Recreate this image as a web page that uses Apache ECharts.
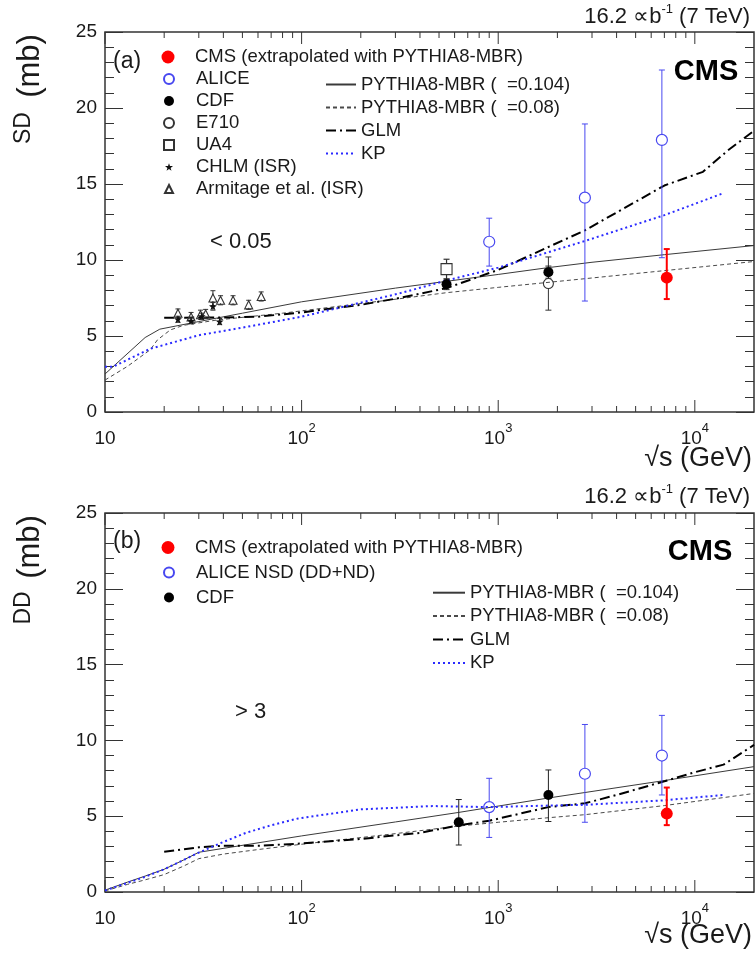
<!DOCTYPE html>
<html>
<head>
<meta charset="utf-8">
<script src="https://cdn.jsdelivr.net/npm/echarts@6/dist/echarts.min.js"></script>
<style>
  html, body { margin: 0; padding: 0; background: #fff; }
  #chart { width: 755px; height: 958px; }
</style>
</head>
<body>
<div id="chart"></div>
<script>
// ---------- Panel (a): single-diffractive cross section, xi < 0.05 ----------
// points: [sqrt(s) GeV, sigma mb, error low, error high]
const sdCMS      = [[7200, 8.84, 7.43, 10.72]];
const sdALICE    = [[900, 11.2, 9.6, 12.75], [2760, 14.1, 7.3, 18.95], [6800, 17.9, 10.15, 22.5]];
const sdCDF      = [[546, 8.4, 8.05, 8.75], [1800, 9.2, 8.8, 9.6]];
const sdE710     = [[1800, 8.45, 6.7, 10.2]];
const sdUA4      = [[546, 9.4, 8.75, 10.05]];
const sdCHLM     = [[23.5, 6.1, 5.9, 6.3], [27.4, 6.0, 5.8, 6.2], [31, 6.3, 6.1, 6.5], [35.4, 6.95, 6.7, 7.2], [38.3, 5.95, 5.75, 6.15]];
const sdArmitage = [[23.5, 6.5, 6.2, 6.78], [27.4, 6.25, 5.95, 6.55], [30.6, 6.4, 6.1, 6.7], [32.5, 6.45, 6.15, 6.75],
                    [35.4, 7.5, 7.0, 7.98], [38.7, 7.35, 7.05, 7.65], [44.8, 7.35, 7.05, 7.65], [53.8, 7.05, 6.75, 7.35], [62.3, 7.6, 7.3, 7.9]];
// model curves: [sqrt(s) GeV, sigma mb]
const sdPythia104 = [[10, 2.5], [16, 4.9], [19, 5.45], [30, 5.95], [50, 6.5], [100, 7.25], [300, 8.15], [1000, 9.05],
                     [1800, 9.5], [3000, 9.85], [7000, 10.35], [20000, 10.95]];
const sdPythia08  = [[10, 2.1], [13, 3.0], [17, 4.1], [18.5, 4.75], [21.5, 5.4], [25, 5.7], [37, 6.05], [80, 6.5],
                     [314, 7.45], [546, 7.85], [1000, 8.2], [2760, 8.77], [7000, 9.3], [20000, 9.9]];
const sdGLM       = [[20, 6.2], [40, 6.22], [60, 6.27], [100, 6.55], [200, 7.05], [314, 7.5], [546, 8.15], [1000, 9.35],
                     [2760, 11.95], [7000, 14.9], [11000, 15.8], [14700, 17.2], [20000, 18.5]];
const sdKP        = [[10, 2.97], [11, 2.98], [16.9, 4.15], [30, 5.05], [50, 5.55], [100, 6.27], [314, 7.8], [546, 8.65],
                     [1000, 9.5], [2760, 11.25], [7000, 12.95], [14000, 14.4]];

// ---------- Panel (b): double-diffractive cross section, delta eta > 3 ----------
const ddCMS   = [[7200, 5.17, 4.41, 6.89]];
const ddALICE = [[900, 5.6, 3.6, 7.5], [2760, 7.8, 4.6, 11.05], [6800, 9.0, 6.4, 11.65]];
const ddCDF   = [[630, 4.6, 3.1, 6.1], [1800, 6.4, 4.65, 8.05]];
const ddPythia104 = [[10, 0.12], [13, 0.65], [16, 1.05], [20, 1.5], [25, 2.1], [30, 2.62], [100, 3.7], [300, 4.62],
                     [630, 5.25], [1800, 6.2], [7000, 7.35], [20000, 8.27]];
const ddPythia08  = [[10, 0.07], [13, 0.5], [16, 0.8], [20, 1.15], [25, 1.7], [30, 2.2], [40, 2.5], [60, 2.8], [100, 3.15],
                     [300, 3.85], [630, 4.35], [1000, 4.6], [1800, 4.9], [2760, 5.1], [7000, 5.7], [20000, 6.5]];
const ddGLM       = [[20, 2.65], [30, 2.95], [40, 3.05], [60, 3.05], [100, 3.2], [200, 3.5], [400, 3.9], [630, 4.4],
                     [900, 4.7], [1800, 5.6], [2760, 5.85], [4000, 6.4], [7000, 7.3], [10000, 7.9], [14000, 8.4], [20000, 9.7]];
const ddKP        = [[10, 0.1], [13, 0.6], [16, 1.0], [20, 1.5], [25, 2.1], [30, 2.6], [40, 3.3], [52, 3.9], [70, 4.4],
                     [96, 4.85], [200, 5.45], [464, 5.67], [900, 5.6], [1800, 5.7], [2760, 5.75], [7000, 6.05], [14000, 6.4]];

// axis ranges and decade tick labels
const xRange = [10, 20000];
const yRange = [0, 25];
const decadeLabels = { 1: '10', 2: '10^2', 3: '10^3', 4: '10^4' };

// legend names
const N_CMS = 'CMS (extrapolated with PYTHIA8-MBR)';
const N_ALICE = 'ALICE';
const N_ALICE_NSD = 'ALICE NSD (DD+ND)';
const N_CDF = 'CDF';
const N_E710 = 'E710';
const N_UA4 = 'UA4';
const N_CHLM = 'CHLM (ISR)';
const N_ARM = 'Armitage et al. (ISR)';
const N_P104 = 'PYTHIA8-MBR (  =0.104)';
const N_P08 = 'PYTHIA8-MBR (  =0.08)';
const N_GLM = 'GLM';
const N_KP = 'KP';

const FONT = '"Liberation Sans", Arial, Helvetica, sans-serif';
const INK = '#1a1a1a';
const FRAME = '#333';
const BLUE = '#4848f0';
const KPBLUE = '#2a2aff';
const STAR = 'path://M0,-10L2.35,-3.24L9.51,-3.09L3.8,1.24L5.88,8.09L0,4L-5.88,8.09L-3.8,1.24L-9.51,-3.09L-2.35,-3.24Z';

// minor + major ticks along the log x axis (1..9 x each decade)
const xTickMarks = [];
for (let d = 10; d < xRange[1]; d *= 10) {
  for (let m = 1; m <= 9; m++) {
    const v = d * m;
    if (v < xRange[1]) xTickMarks.push([v, m === 1 ? 1 : 0]);
  }
}

function decadeFormatter(v) {
  const l = Math.log10(v);
  const e = Math.round(l);
  if (Math.abs(l - e) > 1e-6 || !decadeLabels[e]) return '';
  const parts = decadeLabels[e].split('^');
  return parts.length === 1 ? '{b|' + parts[0] + '}' : '{b|' + parts[0] + '}{s|' + parts[1] + '}';
}

function renderXTicks(params, api) {
  const cs = params.coordSys;
  const x = api.coord([api.value(0), 1])[0];
  const len = api.value(1) === 1 ? 12 : 6;
  const yb = cs.y + cs.height, yt = cs.y;
  const st = { stroke: FRAME, lineWidth: 1 };
  return {
    type: 'group',
    children: [
      { type: 'line', shape: { x1: x, y1: yb, x2: x, y2: yb - len }, style: st },
      { type: 'line', shape: { x1: x, y1: yt, x2: x, y2: yt + len }, style: st }
    ]
  };
}

// vertical error bar with end caps; leaves a gap of `gap` px around an open marker
function errorBarRenderer(color, width, gap, cap) {
  return function (params, api) {
    const s = api.value(0);
    const p = api.coord([s, api.value(1)]);
    const lo = api.coord([s, api.value(2)]);
    const hi = api.coord([s, api.value(3)]);
    const st = { stroke: color, lineWidth: width };
    const kids = [];
    if (hi[1] < p[1] - gap) kids.push({ type: 'line', shape: { x1: p[0], y1: hi[1], x2: p[0], y2: p[1] - gap }, style: st });
    if (lo[1] > p[1] + gap) kids.push({ type: 'line', shape: { x1: p[0], y1: p[1] + gap, x2: p[0], y2: lo[1] }, style: st });
    kids.push({ type: 'line', shape: { x1: p[0] - cap, y1: hi[1], x2: p[0] + cap, y2: hi[1] }, style: st });
    kids.push({ type: 'line', shape: { x1: p[0] - cap, y1: lo[1], x2: p[0] + cap, y2: lo[1] }, style: st });
    return { type: 'group', children: kids };
  };
}

function xAxisFor(gridIndex) {
  return {
    type: 'log', logBase: 10, gridIndex: gridIndex, min: xRange[0], max: xRange[1],
    axisLine: { show: false }, axisTick: { show: false }, minorTick: { show: false }, splitLine: { show: false },
    axisLabel: {
      margin: 10, showMaxLabel: false, formatter: decadeFormatter,
      rich: {
        b: { fontSize: 19, fontFamily: FONT, color: INK, lineHeight: 26, verticalAlign: 'bottom' },
        s: { fontSize: 13, fontFamily: FONT, color: INK, verticalAlign: 'top' }
      }
    }
  };
}

function yAxisFor(gridIndex, position, showLabels) {
  return {
    type: 'value', gridIndex: gridIndex, position: position, min: yRange[0], max: yRange[1], interval: 5,
    axisLine: { show: false }, splitLine: { show: false },
    axisTick: { show: true, inside: true, length: 18, lineStyle: { color: FRAME, width: 1 } },
    minorTick: { show: true, splitNumber: 5, length: 9, lineStyle: { color: FRAME, width: 1 } },
    axisLabel: { show: showLabels, margin: 8, fontSize: 19, fontFamily: FONT, color: INK }
  };
}

function curve(name, data, axis, style) {
  return {
    type: 'line', name: name, data: data, xAxisIndex: axis, yAxisIndex: axis * 2,
    symbol: 'none', showSymbol: false, smooth: false, silent: true, z: 3,
    itemStyle: { color: style.color },
    lineStyle: style
  };
}

function points(name, data, axis, symbol, size, itemStyle, z) {
  return {
    type: 'scatter', name: name, xAxisIndex: axis, yAxisIndex: axis * 2,
    data: data.map(d => [d[0], d[1]]), symbol: symbol, symbolSize: size,
    itemStyle: Object.assign({ opacity: 1 }, itemStyle), silent: true, z: z || 6
  };
}

function errors(data, axis, color, width, gap, cap) {
  return {
    type: 'custom', xAxisIndex: axis, yAxisIndex: axis * 2, data: data, silent: true, z: 5,
    renderItem: errorBarRenderer(color, width, gap, cap)
  };
}

function ticks(axis) {
  return {
    type: 'custom', xAxisIndex: axis, yAxisIndex: axis * 2, data: xTickMarks, silent: true, z: 2, clip: false,
    renderItem: renderXTicks
  };
}

const styleP104 = { color: '#3a3a3a', width: 1, type: 'solid' };
const styleP08 = { color: '#4a4a4a', width: 1, type: [4, 3] };
const styleGLM = { color: '#000', width: 2, type: [10, 4, 2, 4] };
const styleKP = { color: KPBLUE, width: 2, type: [2, 3] };

const openBlue = { color: 'rgba(255,255,255,0)', borderColor: BLUE, borderWidth: 1.2 };
const openBlack = { color: 'rgba(255,255,255,0)', borderColor: '#333', borderWidth: 1.1 };

const series = [
  ticks(0), ticks(1),
  // panel (a) models
  curve(N_P104, sdPythia104, 0, styleP104),
  curve(N_P08, sdPythia08, 0, styleP08),
  curve(N_GLM, sdGLM, 0, styleGLM),
  curve(N_KP, sdKP, 0, styleKP),
  // panel (a) measurements
  errors(sdArmitage, 0, '#333', 1, 3, 2.5),
  errors(sdCHLM, 0, '#333', 1, 2, 2.5),
  errors(sdUA4, 0, '#333', 1.2, 5.5, 3),
  errors(sdE710, 0, '#333', 1, 5, 3),
  errors(sdCDF, 0, '#222', 1, 0, 3),
  errors(sdALICE, 0, BLUE, 1, 5.5, 3),
  errors(sdCMS, 0, '#ff0000', 2, 0, 3),
  points(N_ARM, sdArmitage, 0, 'triangle', 8, openBlack),
  points(N_CHLM, sdCHLM, 0, STAR, 8, { color: '#111' }),
  points(N_UA4, sdUA4, 0, 'rect', 11, openBlack),
  points(N_E710, sdE710, 0, 'circle', 10, openBlack),
  points(N_CDF, sdCDF, 0, 'circle', 10, { color: '#000' }, 7),
  points(N_ALICE, sdALICE, 0, 'circle', 11, openBlue),
  points(N_CMS, sdCMS, 0, 'circle', 12, { color: '#ff0000' }, 8),
  // panel (b) models
  curve(N_P104, ddPythia104, 1, styleP104),
  curve(N_P08, ddPythia08, 1, styleP08),
  curve(N_GLM, ddGLM, 1, styleGLM),
  curve(N_KP, ddKP, 1, styleKP),
  // panel (b) measurements
  errors(ddCDF, 1, '#222', 1, 0, 3),
  errors(ddALICE, 1, BLUE, 1, 5.5, 3),
  errors(ddCMS, 1, '#ff0000', 2, 0, 3),
  points(N_CDF, ddCDF, 1, 'circle', 10, { color: '#000' }, 7),
  points(N_ALICE_NSD, ddALICE, 1, 'circle', 11, openBlue),
  points(N_CMS, ddCMS, 1, 'circle', 12, { color: '#ff0000' }, 8)
];

// marker legend: square icon centred at iconX, label starting at textX
function markerLegend(iconX, textX, top, names, size, rowH) {
  return {
    show: true, orient: 'vertical', left: iconX - size / 2, top: top, padding: 0,
    itemWidth: size, itemHeight: size, itemGap: 0, selectedMode: false,
    textStyle: {
      fontSize: 18.5, fontFamily: FONT, color: INK, lineHeight: rowH,
      padding: [0, 0, 0, textX - (iconX + size / 2 + 5)]
    },
    data: names
  };
}

// line legend: short line sample followed by the label
function lineLegend(left, top, names, itemW, rowH) {
  return {
    show: true, orient: 'vertical', left: left, top: top, padding: 0,
    itemWidth: itemW, itemHeight: 12, itemGap: 0, selectedMode: false,
    itemStyle: { color: 'rgba(0,0,0,0)', borderColor: 'rgba(0,0,0,0)', borderWidth: 0 },
    textStyle: { fontSize: 18.5, fontFamily: FONT, color: INK, lineHeight: rowH },
    data: names
  };
}

const legends = [
  // panel (a)
  markerLegend(168, 195, 46, [N_CMS], 13, 22),
  markerLegend(168, 195, 68, [N_ALICE, N_CDF, N_E710, N_UA4], 10, 22),
  markerLegend(168, 195, 156, [N_CHLM, N_ARM], 8, 22),
  lineLegend(325, 73, [N_P104, N_P08, N_GLM, N_KP], 30, 23),
  // panel (b)
  markerLegend(168, 195, 535, [N_CMS], 13, 25),
  markerLegend(168, 195, 560, [N_ALICE_NSD, N_CDF], 10, 25),
  lineLegend(432, 581, [N_P104, N_P08, N_GLM, N_KP], 32, 23.4)
];

function txt(x, y, text, size, opts) {
  return Object.assign({
    type: 'text', x: x, y: y, silent: true, z: 20,
    style: Object.assign({ text: text, fontSize: size, fontFamily: FONT, fill: INK, align: 'left', verticalAlign: 'middle' },
      (opts && opts.style) || {})
  }, (opts && opts.el) || {});
}

function lumi(y) {
  return {
    type: 'text', x: 750, y: y, silent: true, z: 20,
    style: {
      text: '{n|16.2 \u221Db}{s|-1}{n| (7 TeV)}', align: 'right', verticalAlign: 'middle',
      rich: {
        n: { fontSize: 22, fontFamily: FONT, fill: INK, lineHeight: 25, verticalAlign: 'bottom' },
        s: { fontSize: 13, fontFamily: FONT, fill: INK, verticalAlign: 'top' }
      }
    }
  };
}

const graphics = [
  lumi(15), lumi(495),
  txt(113, 62, '(a)', 23), txt(113, 542, '(b)', 23),
  txt(706, 72, 'CMS', 29, { style: { fontWeight: 'bold', align: 'center', fill: '#000' } }),
  txt(700, 552, 'CMS', 29, { style: { fontWeight: 'bold', align: 'center', fill: '#000' } }),
  txt(210, 242, '< 0.05', 22),
  txt(235, 712, '> 3', 22),
  txt(752, 459, '\u221As (GeV)', 27, { style: { align: 'right' } }),
  txt(752, 936, '\u221As (GeV)', 27, { style: { align: 'right' } }),
  txt(30, 66, '(mb)', 31, { style: { align: 'center' }, el: { rotation: Math.PI / 2 } }),
  txt(24, 128, 'SD', 23, { style: { align: 'center' }, el: { rotation: Math.PI / 2 } }),
  txt(30, 547, '(mb)', 31, { style: { align: 'center' }, el: { rotation: Math.PI / 2 } }),
  txt(24, 608, 'DD', 23, { style: { align: 'center' }, el: { rotation: Math.PI / 2 } })
];

const chart = echarts.init(document.getElementById('chart'), null, { renderer: 'canvas' });
chart.setOption({
  animation: false,
  backgroundColor: '#fff',
  textStyle: { fontFamily: FONT },
  grid: [
    { left: 105, top: 32, width: 649, height: 380, show: true, borderColor: FRAME, borderWidth: 1.5, backgroundColor: 'transparent' },
    { left: 105, top: 513, width: 649, height: 379, show: true, borderColor: FRAME, borderWidth: 1.5, backgroundColor: 'transparent' }
  ],
  xAxis: [xAxisFor(0), xAxisFor(1)],
  yAxis: [yAxisFor(0, 'left', true), yAxisFor(0, 'right', false), yAxisFor(1, 'left', true), yAxisFor(1, 'right', false)],
  legend: legends,
  graphic: graphics,
  series: series
});
</script>
</body>
</html>
